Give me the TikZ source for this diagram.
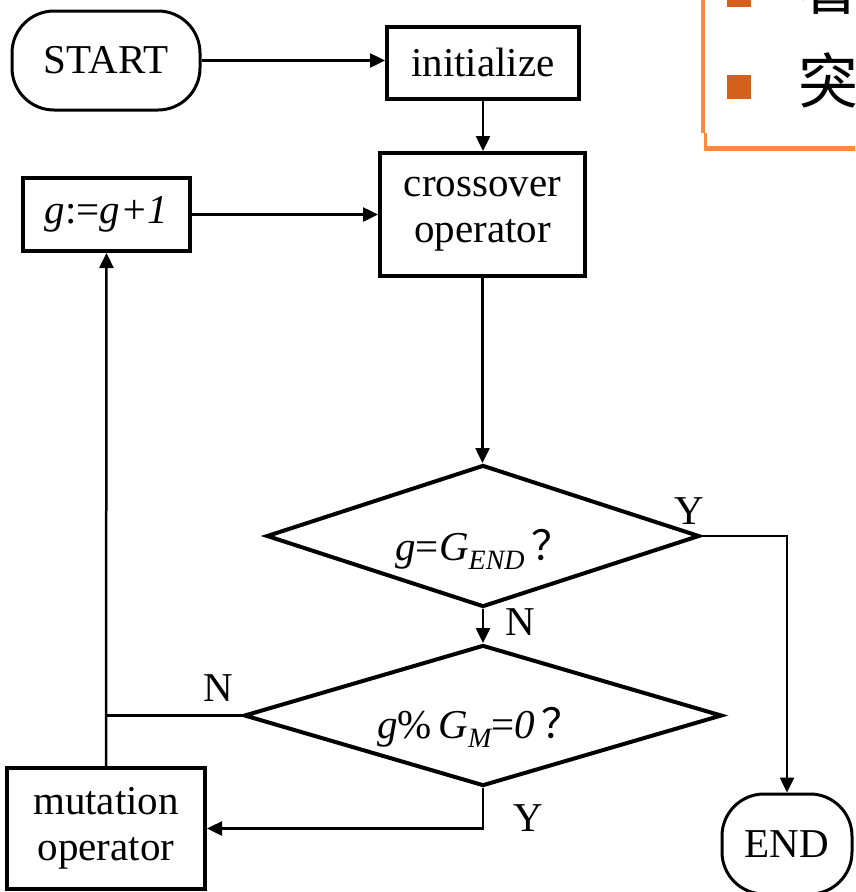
\documentclass[tikz,border=0pt]{standalone}
\usepackage{fontspec}
\setmainfont{Liberation Serif}
\newfontfamily\cjk{Noto Sans CJK SC}
\usetikzlibrary{arrows.meta,shapes.geometric}

\definecolor{frameorange}{HTML}{FF8A3D}
\definecolor{bulletorange}{HTML}{D4601C}

\begin{document}
\begin{tikzpicture}[x=1pt,y=-1pt,
  every node/.style={font=\fontsize{41}{46}\selectfont, inner sep=0pt, align=center},
  procbox/.style={draw, line width=4pt, rectangle},
  termbox/.style={draw, line width=3pt, rectangle, rounded corners=42pt},
  decision/.style={draw, line width=4pt, diamond},
  flow/.style={line width=2.5pt, -{Triangle[length=15pt,width=14pt]}},
  wire/.style={line width=2.5pt},
  bulletsq/.style={fill=bulletorange, minimum size=24pt},
  cjkchar/.style={font=\fontsize{60}{60}\selectfont\cjk}]

\useasboundingbox (0,0) rectangle (855,892);
\clip (0,0) rectangle (855,892);

% slide text box in the upper right corner
\draw[frameorange, line width=4pt] (703,-5) -- (703,133);
\draw[frameorange, line width=3pt] (705,133) -- (705,151);
\draw[frameorange, line width=5.5pt] (703.5,148.7) -- (870,148.7);
\node[bulletsq] (b1) at (739,-5) {};
\node[bulletsq] (b2) at (739,87) {};
\node[cjkchar] (c1) at (828,-13) {看};
\node[cjkchar] (c2) at (828,80) {突};

% flowchart blocks
\node[termbox, minimum width=188pt, minimum height=99pt] (start) at (106,60.5) {START};
\node[procbox, minimum width=192pt, minimum height=72pt] (init) at (483,62.5) {initialize};
\node[procbox, minimum width=205pt, minimum height=123pt] (cross) at (482.5,214.5) {crossover\\operator};
\node[procbox, minimum width=167pt, minimum height=73pt] (gp) at (106.5,214.5)
  {\itshape g\upshape:=\itshape g+1};
\node[decision, minimum width=433pt, minimum height=142pt] (d1) at (483,536) {};
\node[anchor=base] (d1t) at (484,560)
  {\itshape g\upshape=\itshape G\raisebox{-9pt}{\fontsize{28}{28}\selectfont\itshape END}\,{\cjk ？}};
\node[decision, minimum width=478pt, minimum height=141pt] (d2) at (483,715.5) {};
\node[anchor=base] (d2t) at (480,738)
  {\itshape g\upshape\%\,\itshape G\raisebox{-9pt}{\fontsize{28}{28}\selectfont\itshape M}\upshape=\itshape 0\,{\cjk ？}};
\node[procbox, minimum width=198pt, minimum height=121pt] (mut) at (106,828.5) {mutation\\operator};
\node[termbox, minimum width=130pt, minimum height=100pt] (end) at (787,844) {END};

% branch labels
\node (y1) at (689,511) {Y};
\node (n1) at (520,622) {N};
\node (n2) at (218,688) {N};
\node (y2) at (528,818) {Y};

% connectors
\draw[flow] (start.east) -- (start.east -| init.west);
\draw[flow] (init.south) -- (init.south |- cross.north);
\draw[flow] (gp.east) -- (gp.east -| cross.west);
\draw[flow] (cross.south) -- (cross.south |- d1.north);
\draw[flow] (d1.east) -- (d1.east -| end.north) -- (end.north);
\draw[flow] (d1.south) -- (d2.north);
\coordinate (join) at (d2.west -| gp.south);
\draw[wire] (d2.west) -- (join);
\draw[flow] (mut.north) -- (gp.south);
\draw[flow] (d2.south) -- (d2.south |- mut.east) -- (mut.east);
\end{tikzpicture}
\end{document}
